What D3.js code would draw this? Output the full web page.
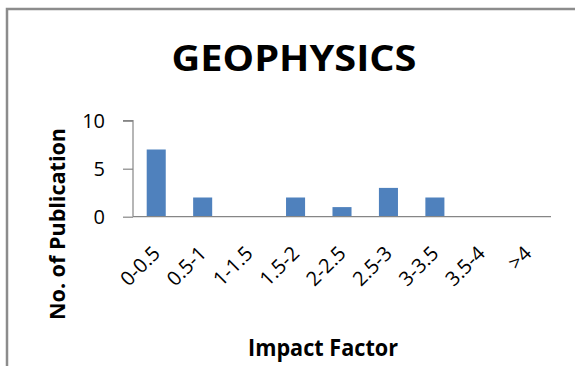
<!DOCTYPE html>
<html><head><meta charset="utf-8">
<script src="https://cdn.jsdelivr.net/npm/d3@7"></script>
<style>html,body{margin:0;padding:0;background:#fff;overflow:hidden}</style>
</head><body>
<script>
const categories = ["0-0.5","0.5-1","1-1.5","1.5-2","2-2.5","2.5-3","3-3.5","3.5-4",">4"];
const values = [7,2,0,2,1,3,2,0,0];
const yTicks = [0,5,10];
const title = "GEOPHYSICS";
const xTitle = "Impact Factor";
const yTitle = "No. of Publication";

const W = 575, H = 366;
const svg = d3.select("body").append("svg").attr("width", W).attr("height", H);
svg.append("rect").attr("width", W).attr("height", H).attr("fill", "#fff");
// chart frame (left and top visible)
svg.append("rect").attr("x", 7).attr("y", 9).attr("width", W + 20).attr("height", H + 20)
  .attr("fill", "none").attr("stroke", "#8c8c8c").attr("stroke-width", 2.5);

const plotLeft = 133, plotRight = 551, plotTop = 120.7, plotBottom = 216.7;
const x = d3.scaleBand().domain(categories).range([plotLeft, plotRight]).paddingInner(0.59).paddingOuter(0.295);
const y = d3.scaleLinear().domain([0, 10]).range([plotBottom, plotTop]);

const font = "'Open Sans', 'Liberation Sans', sans-serif";

// title
svg.append("text").attr("x", 294).attr("y", 71).attr("text-anchor", "middle")
  .attr("font-family", font).attr("font-weight", "bold").attr("font-size", 35.5)
  .attr("textLength", 245).attr("lengthAdjust", "spacingAndGlyphs").attr("fill", "#000").text(title);

// bars
svg.append("g").selectAll("rect").data(values).join("rect")
  .attr("x", (d, i) => x(categories[i]))
  .attr("y", d => y(d))
  .attr("width", x.bandwidth())
  .attr("height", d => y(0) - y(d))
  .attr("fill", "#4f81bd");

// y axis
const yAxis = d3.axisLeft(y).tickValues(yTicks).tickSize(10).tickPadding(18).tickFormat(d3.format("d"));
const gy = svg.append("g").attr("transform", `translate(${plotLeft},0)`).call(yAxis);
gy.select(".domain").attr("stroke", "#868686").attr("stroke-width", 1.2).attr("d", `M-10,${plotTop}H0V${plotBottom}`);
gy.selectAll(".tick line").attr("stroke", "#868686").attr("stroke-width", 1.2);
gy.selectAll(".tick text").attr("font-family", font).attr("font-size", 20).attr("fill", "#000").attr("dy", "0.36em");

// x axis line
svg.append("line").attr("x1", plotLeft).attr("x2", plotRight).attr("y1", plotBottom).attr("y2", plotBottom)
  .attr("stroke", "#868686").attr("stroke-width", 1.2);

// x tick labels
svg.append("g").selectAll("text").data(categories).join("text")
  .attr("transform", d => `translate(${x(d) + x.bandwidth() / 2 + 5},${plotBottom + 38}) rotate(-45)`)
  .attr("text-anchor", "end")
  .attr("font-family", font).attr("font-size", 20).attr("fill", "#000").text(d => d);

// axis titles
svg.append("text").attr("x", 323).attr("y", 356).attr("text-anchor", "middle")
  .attr("font-family", font).attr("font-weight", "bold").attr("font-size", 22.5)
  .attr("textLength", 150).attr("lengthAdjust", "spacingAndGlyphs").attr("fill", "#000").text(xTitle);

svg.append("text").attr("transform", "translate(65,224) rotate(-90)").attr("text-anchor", "middle")
  .attr("font-family", font).attr("font-weight", "bold").attr("font-size", 21)
  .attr("textLength", 192).attr("lengthAdjust", "spacingAndGlyphs").attr("fill", "#000").text(yTitle);
</script>
</body></html>
